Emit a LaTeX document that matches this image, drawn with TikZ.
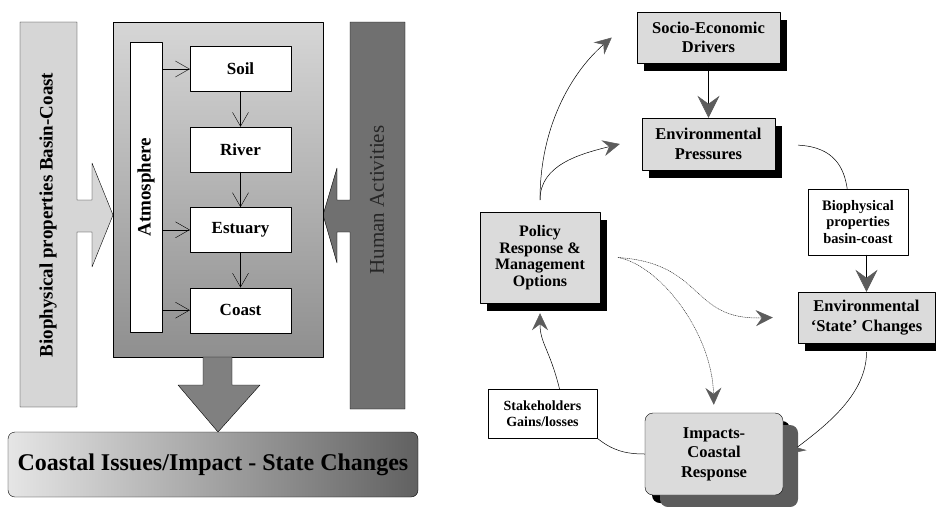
\documentclass[tikz,border=0pt]{standalone}
\usepackage{fontspec}
\setmainfont{Liberation Serif}
\usetikzlibrary{arrows.meta,shadows,positioning}
\definecolor{barlight}{gray}{0.84}
\definecolor{bardark}{gray}{0.44}
\definecolor{paneltop}{gray}{0.84}
\definecolor{panelbottom}{gray}{0.56}
\definecolor{downgray}{gray}{0.50}
\definecolor{boxfill}{gray}{0.86}
\definecolor{tipgray}{gray}{0.36}
\definecolor{shadegray}{gray}{0.36}
\definecolor{issuesleft}{gray}{0.90}
\definecolor{issuesright}{gray}{0.38}

\begin{document}
\begin{tikzpicture}[line cap=round,line join=round,x=1pt,y=-1pt,
  >={Straight Barb[length=14pt,width=16pt]},
  inbox/.style={draw,fill=white,minimum width=101pt,minimum height=45pt,inner sep=0pt,font=\fontsize{17}{20}\selectfont\bfseries},
  rbox/.style={draw,fill=boxfill,inner sep=0pt,align=center,font=\fontsize{16.5}{19.5}\selectfont\bfseries,
    drop shadow={shadow xshift=7pt,shadow yshift=-8pt,fill=black,opacity=1}},
  wbox/.style={draw,fill=white,inner sep=0pt,align=center,font=\fontsize{14.5}{16.5}\selectfont\bfseries},
  link/.style={line width=0.5pt},
  bigtip/.style={link,-{Stealth[length=17pt,width=16pt,inset=6pt,fill=tipgray,color=tipgray]}},
  maintip/.style={link,-{Stealth[length=22pt,width=22pt,inset=8pt,fill=tipgray,color=tipgray]}},
  dotlink/.style={line width=0.8pt,densely dotted,draw=black!80}]
\useasboundingbox (0,0) rectangle (936,506);
% left panel
\filldraw[fill=barlight] (20,22) -- (77,22) -- (77,200) -- (92,200) -- (92,163) -- (113,215) -- (92,267) -- (92,232) -- (77,232) -- (77,407) -- (20,407) -- cycle;
\node[rotate=90,font=\fontsize{19}{21}\selectfont\bfseries] at (48,215) {Biophysical properties Basin-Coast};
\filldraw[fill=bardark] (350,22) -- (405,22) -- (405,409) -- (350,409) -- (350,232) -- (337,232) -- (337,263) -- (323,215) -- (337,168) -- (337,200) -- (350,200) -- cycle;
\node[rotate=90,text=black!85,font=\fontsize{21}{23}\selectfont] at (377,200) {Human Activities};
\draw[top color=paneltop,bottom color=panelbottom] (113,22) rectangle (323,357);
\filldraw[fill=downgray] (203,357) -- (232,357) -- (232,385) -- (260,385) -- (218,432) -- (178,385) -- (203,385) -- cycle;
\node[draw,rounded corners=7pt,left color=issuesleft,right color=issuesright,minimum width=410pt,minimum height=65pt,
  font=\fontsize{24}{26}\selectfont\bfseries] (issues) at (213,464.5) {Coastal Issues/Impact - State Changes};
\node[draw,fill=white,minimum width=32pt,minimum height=290pt] (atm) at (146,187) {};
\node[rotate=90,font=\fontsize{19}{21}\selectfont\bfseries] at (atm) {Atmosphere};
\node[inbox] (soil) at (240.5,69) {Soil};
\node[inbox,below=35pt of soil] (river) {River};
\node[inbox,below=35pt of river] (estuary) {Estuary};
\node[inbox,below=35pt of estuary] (coast) {Coast};
\foreach \b in {soil,estuary,coast}
  \draw[->] (atm.east |- \b.west) -- (\b.west);
\draw[->] (soil.south) -- (river.north);
\draw[->] (river.south) -- (estuary.north);
\draw[->] (estuary.south) -- (coast.north);
% right panel
\node[rbox,minimum width=143pt,minimum height=51pt] (socio) at (708.5,37.5) {Socio-Economic\\Drivers};
\node[rbox,minimum width=133pt,minimum height=52pt] (press) at (708.5,144) {Environmental\\Pressures};
\node[rbox,minimum width=120pt,minimum height=91pt,font=\fontsize{16}{16.5}\selectfont\bfseries] (policy) at (540,257.5) {Policy\\Response \&\\Management\\Options};
\node[wbox,minimum width=100pt,minimum height=66pt] (bioprop) at (858,222) {Biophysical\\properties\\basin-coast};
\node[rbox,minimum width=137pt,minimum height=51pt] (state) at (866.5,317.5) {Environmental\\‘State’ Changes};
\node[rbox,rounded corners=8pt,minimum width=138pt,minimum height=82pt,
  drop shadow={shadow xshift=15pt,shadow yshift=-12pt,fill=shadegray,opacity=1}] (impacts) at (714,454) {Impacts-\\Coastal\\Response};
\node[wbox,minimum width=109pt,minimum height=49pt,font=\fontsize{14}{16}\selectfont\bfseries] (stake) at (542.5,413.5) {Stakeholders\\Gains/losses};
\coordinate (ptop) at ([yshift=12pt]policy.north);
\coordinate (pside) at ([xshift=18pt]policy.east);
\draw[maintip] (socio.south) -- (press.north);
\draw[maintip] (bioprop.south -| state.north) -- (state.north);
\draw[link,shorten <=23pt] (press.east) .. controls +(60,3) and +(-3,-20) .. (bioprop.108);
\draw[bigtip] (ptop) .. controls +(0,-80) and +(-35,30) .. ([xshift=-25pt]socio.west);
\draw[bigtip] (ptop) .. controls +(0,-35) and +(-40,10) .. ([xshift=-22pt]press.west);
\draw[dotlink,bigtip] (pside) .. controls +(87,6) and +(-83,3) .. ([xshift=-25pt]state.west);
\draw[dotlink,bigtip,shorten >=8pt] (pside) .. controls +(42,8) and +(-2,-80) .. (impacts.north);
\draw[bigtip] ([xshift=17pt]stake.north) .. controls +(-10,-40) and +(0,30) .. ([yshift=-10pt]policy.south);
\draw[link] (stake.south east) .. controls +(15,12) and +(-20,0) .. (impacts.west);
\draw[bigtip,shorten <=9pt] (state.south) .. controls +(0,50) and +(40,-30) .. ([xshift=5pt]impacts.east);
\end{tikzpicture}
\end{document}
